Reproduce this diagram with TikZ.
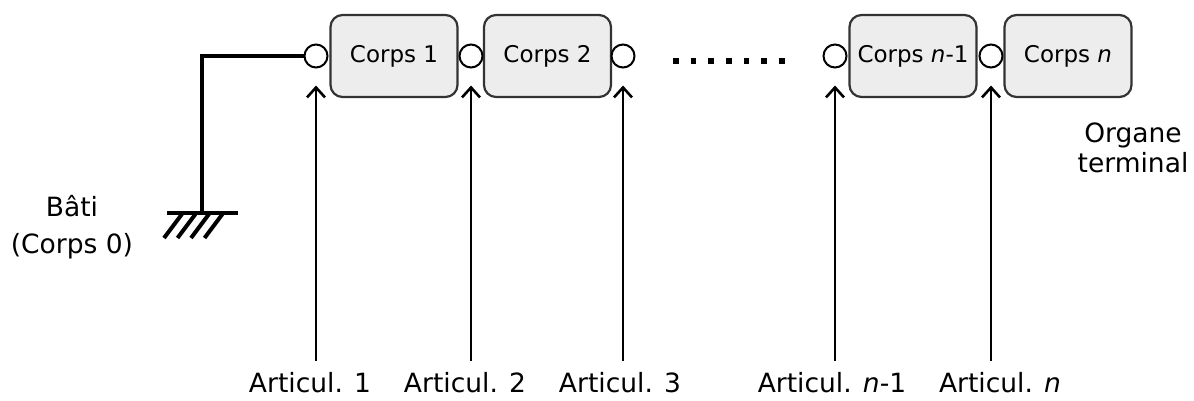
\documentclass[tikz,border=0pt]{standalone}
\usepackage{fontspec}
\setmainfont{DejaVu Sans}
\usetikzlibrary{arrows.meta}
\begin{document}
\begin{tikzpicture}[x=1pt,y=-1pt,
 body/.style={draw=black!80, fill=black!7, rounded corners=12pt, line width=2.2pt, minimum width=127pt, minimum height=82pt, font=\fontsize{23}{27}\selectfont, inner sep=0pt},
 joint/.style={circle, draw, fill=white, line width=2pt, minimum size=23pt, inner sep=0pt},
 lbl/.style={font=\fontsize{26.5}{30}\selectfont, align=center, inner sep=0pt},
 arr/.style={-{Straight Barb[length=10pt,width=18pt,line width=2.6pt]}, line width=2.5pt},
 frame/.style={line width=4pt},
 dotsq/.style={fill=black, minimum size=5.5pt, inner sep=0pt}
]
\useasboundingbox (0,0) rectangle (1194,401);
% bodies
\node[body] (c1) at (394,56) {Corps 1};
\node[body] (c2) at (547.5,56) {Corps 2};
\node[body] (cn1) at (913,56) {Corps \textit{n}-1};
\node[body] (cn) at (1068,56) {Corps \textit{n}};
% joints
\node[joint] (j1) at (316,56) {};
\node[joint] (j2) at (471,56) {};
\node[joint] (j3) at (623,56) {};
\node[joint] (jn1) at (835,56) {};
\node[joint] (jn) at (991,56) {};
% dots
\foreach \i/\x in {1/676,2/693.5,3/711,4/729,5/746.5,6/764,7/782}
  \node[dotsq] (d\i) at (\x,61) {};
% labels
\node[lbl] (a1) at (310,383) {Articul. 1};
\node[lbl] (a2) at (465,383) {Articul. 2};
\node[lbl] (a3) at (620,383) {Articul. 3};
\node[lbl] (an1) at (832,383) {Articul. \textit{n}-1};
\node[lbl] (an) at (1000,383) {Articul. \textit{n}};
\node[lbl, font=\fontsize{26.5}{30}\selectfont] (org) at (1133,148) {Organe\\terminal};
\node[lbl, font=\fontsize{26.5}{37}\selectfont] (bati) at (72,227) {Bâti\\(Corps 0)};
% arrows
\foreach \a/\j in {a1/j1,a2/j2,a3/j3,an1/jn1,an/jn}
  \draw[arr, shorten <=12pt, shorten >=17pt] (\a.north -| \j) -- (\j.south);
% frame / ground
\coordinate (g) at (202,213);
\coordinate (gl) at (167,213);
\coordinate (gr) at (238,213);
\draw[frame] (j1.west) -| (g);
\draw[frame] (gl) -- (gr);
\foreach \t in {182,195.5,209,222.5}
  \draw[line width=4pt] (\t,214) -- ++(-18,24);
\end{tikzpicture}
\end{document}
